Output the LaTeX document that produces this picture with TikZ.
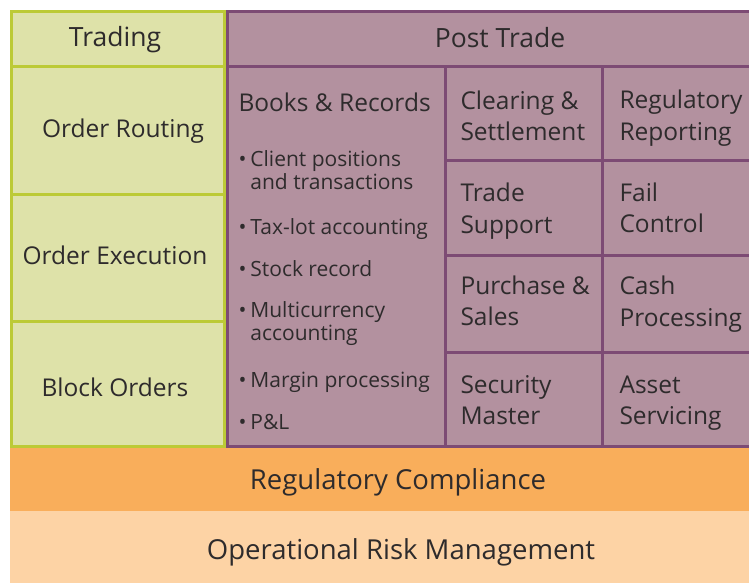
\documentclass[tikz,border=0pt]{standalone}
\usepackage{fontspec}
\setmainfont{Open Sans}
\definecolor{tradefill}{HTML}{DEE2A9}
\definecolor{tradeline}{HTML}{BCCA36}
\definecolor{postfill}{HTML}{B3919F}
\definecolor{postline}{HTML}{7D4B74}
\definecolor{compfill}{HTML}{F9AE5B}
\definecolor{riskfill}{HTML}{FDD3A5}
\definecolor{ink}{HTML}{2E2B2C}
\begin{document}
\begin{tikzpicture}[x=1pt, y=-1pt, line width=3pt,
		trade/.style={fill=tradefill, draw=tradeline},
		post/.style={fill=postfill, draw=postline},
		head/.style={text=ink, inner sep=0pt, font=\fontsize{26.5}{32}\selectfont},
		cell/.style={text=ink, inner sep=0pt, anchor=west, align=left, font=\fontsize{24.5}{31.5}\selectfont},
		label/.style={text=ink, inner sep=0pt, font=\fontsize{24.5}{31.5}\selectfont},
		bullet/.style={text=ink, inner sep=0pt, anchor=west, align=left, font=\fontsize{21}{23}\selectfont},
		band/.style={text=ink, inner sep=0pt, font=\fontsize{27.5}{33}\selectfont}]
	
	\useasboundingbox (0,0) rectangle (749,582);
	\clip (0,0) rectangle (749,582);
	
	% bands at the bottom
	\fill[riskfill] (10,511) rectangle (760,590);
	\fill[compfill] (10,446) rectangle (760,511);
	
	% trading column
	\filldraw[trade] (11.5,11.5) rectangle (224,66);
	\filldraw[trade] (11.5,66) rectangle (224,194);
	\filldraw[trade] (11.5,194) rectangle (224,321);
	\filldraw[trade] (11.5,321) rectangle (224,446);
	
	% post trade
	\filldraw[post] (227,11.5) rectangle (760,66);
	\filldraw[post] (227,66) rectangle (445,446);
	\filldraw[post] (445,66) rectangle (602,160);
	\filldraw[post] (602,66) rectangle (760,160);
	\filldraw[post] (445,160) rectangle (602,255);
	\filldraw[post] (602,160) rectangle (760,255);
	\filldraw[post] (445,255) rectangle (602,352);
	\filldraw[post] (602,255) rectangle (760,352);
	\filldraw[post] (445,352) rectangle (602,446);
	\filldraw[post] (602,352) rectangle (760,446);
	
	\node[head] (trading) at (115,40) {Trading};
	\node[head] (posttrade) at (500,38) {Post Trade};
	
	\node[label] (routing) at (123,131) {Order Routing};
	\node[label] (execution) at (115,255) {Order Execution};
	\node[label] (block) at (115,387) {Block Orders};
	
	\node[cell] (books) at (237,102) {Books \& Records};
	\node[bullet] (b1) at (237,170) {•\hspace{4pt}Client positions\\\hphantom{•\hspace{4pt}}and transactions};
	\node[bullet] (b2) at (237,229) {•\hspace{4pt}Tax-lot accounting};
	\node[bullet] (b3) at (237,269) {•\hspace{4pt}Stock record};
	\node[bullet] (b4) at (237,323.5) {•\hspace{4pt}Multicurrency\\\hphantom{•\hspace{4pt}}accounting};
	\node[bullet] (b5) at (237,382) {•\hspace{4pt}Margin processing};
	\node[bullet] (b6) at (237,422) {•\hspace{4pt}P\&L};
	
	\node[cell] (clearing) at (459,116) {Clearing \&\\Settlement};
	\node[cell] (regrep) at (618,118) {Regulatory\\Reporting};
	\node[cell] (support) at (459,211) {Trade\\Support};
	\node[cell] (fail) at (618,208) {Fail\\Control};
	\node[cell] (purchase) at (459,301) {Purchase \&\\Sales};
	\node[cell] (cash) at (618,304) {Cash\\Processing};
	\node[cell] (security) at (459,400) {Security\\Master};
	\node[cell] (asset) at (618,403) {Asset\\Servicing};
	
	\node[band] (compliance) at (398,482) {Regulatory Compliance};
	\node[band] (risk) at (401,552) {Operational Risk Management};
\end{tikzpicture}
\end{document}
